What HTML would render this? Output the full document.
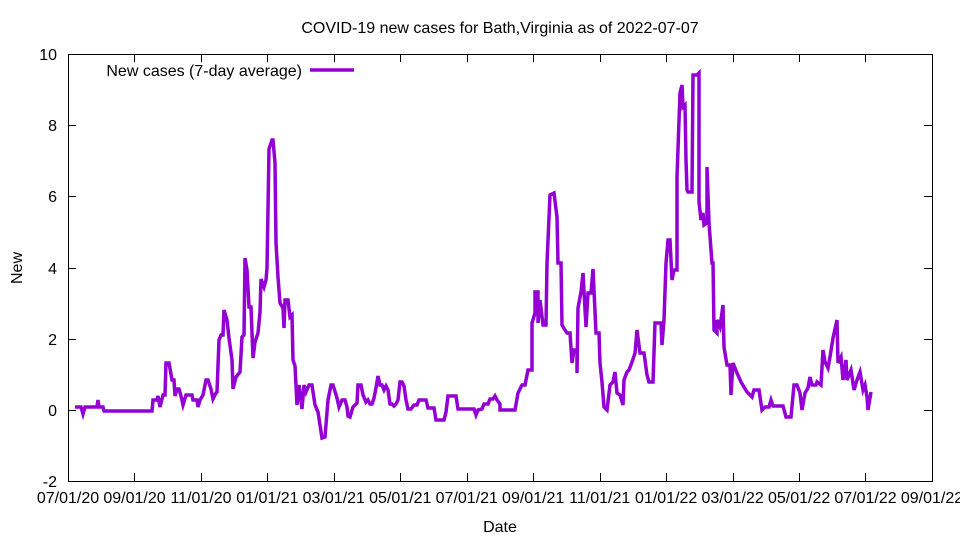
<!DOCTYPE html>
<html><head><style>html,body{margin:0;padding:0;background:#fff}svg{display:block}text{font-family:"Liberation Sans",sans-serif;font-size:16px;fill:#000}</style></head>
<body>
<svg width="960" height="540" viewBox="0 0 960 540">
<rect width="960" height="540" fill="#fff"/>
<text x="500" y="33" text-anchor="middle">COVID-19 new cases for Bath,Virginia as of 2022-07-07</text>
<g stroke="#000" stroke-width="1" fill="none">
<rect x="68.5" y="54.5" width="864" height="427"/>
<path d="M68 481.5h8M932 481.5h-8M68 410.5h8M932 410.5h-8M68 339.5h8M932 339.5h-8M68 268.5h8M932 268.5h-8M68 196.5h8M932 196.5h-8M68 125.5h8M932 125.5h-8M68 54.5h8M932 54.5h-8"/>
<path d="M68.5 481v-8M134.5 481v-8M201.5 481v-8M267.5 481v-8M334.5 481v-8M400.5 481v-8M467.5 481v-8M533.5 481v-8M600.5 481v-8M666.5 481v-8M733.5 481v-8M799.5 481v-8M865.5 481v-8M932.5 481v-8M68.5 54v8M134.5 54v8M201.5 54v8M267.5 54v8M334.5 54v8M400.5 54v8M467.5 54v8M533.5 54v8M600.5 54v8M666.5 54v8M733.5 54v8M799.5 54v8M865.5 54v8M932.5 54v8"/>
</g>
<g text-anchor="end">
<text x="57" y="487">-2</text><text x="57" y="416">0</text><text x="57" y="345">2</text><text x="57" y="274">4</text><text x="57" y="202">6</text><text x="57" y="131">8</text><text x="57" y="60">10</text>
</g>
<g text-anchor="middle">
<text x="68" y="503">07/01/20</text><text x="134.5" y="503">09/01/20</text><text x="201" y="503">11/01/20</text><text x="267.4" y="503">01/01/21</text><text x="333.8" y="503">03/01/21</text><text x="400.3" y="503">05/01/21</text><text x="466.8" y="503">07/01/21</text><text x="533.2" y="503">09/01/21</text><text x="599.7" y="503">11/01/21</text><text x="666.2" y="503">01/01/22</text><text x="732.6" y="503">03/01/22</text><text x="799.1" y="503">05/01/22</text><text x="865.5" y="503">07/01/22</text><text x="932" y="503">09/01/22</text>
<text x="500" y="532">Date</text>
</g>
<text x="0" y="0" text-anchor="middle" transform="translate(22,268) rotate(-90)">New</text>
<text x="302" y="76" text-anchor="end">New cases (7-day average)</text>
<line x1="310" y1="70" x2="354" y2="70" stroke="#9400d3" stroke-width="3.5"/>
<polyline fill="none" stroke="#9400d3" stroke-width="3.5" stroke-linejoin="miter" points="75,407 81,407 83,414 85,407 97,407 98,400 99,407 103,407 104,411 152,411 153,400 157,400 158,396 160,407 163,395 165,395 166,363 169,363 172,380 174,380 175,396 177,389 179,389 181,396 183,405 186,395 192,395 193,400 197,400 198,407 200,400 203,395 206,380 208,380 211,389 213,399 216,393 217,392 219,340 221,335 223,335 224,310 227,320 229,338 232,360 233,389 236,377 240,372 242,337 244,335 245,258 247,270 249,307 251,307 252,333 253,358 255,342 258,333 260,312 261,279 264,287 266,280 267,268 269,149 272,140 273,140 275,163 276,243 278,277 280,303 283,308 284,328 285,300 288,300 290,317 292,315 293,360 295,366 297,405 299,385 302,409 304,385 306,392 309,385 312,385 315,405 318,412 322,438 325,437 328,400 331,385 333,385 337,398 339,407 342,400 345,400 347,407 348,416 350,417 353,407 357,403 358,385 361,385 363,395 366,402 368,400 370,404 372,404 374,398 376,388 378,376 380,385 382,385 384,390 386,386 388,390 390,404 392,404 394,406 396,404 398,400 400,382 402,382 404,386 406,400 408,409 411,409 414,405 417,405 419,400 426,400 428,408 434,408 436,420 444,420 446,412 448,396 456,396 458,409 474,409 476,415 478,410 482,409 484,404 488,404 490,399 493,399 495,396 497,400 500,404 500,410 515,410 518,393 522,385 525,385 528,370 532,370 532,323 535,313 535,292 538,292 538,323 540,300 543,325 546,325 547,263 550,195 554,193 557,217 558,263 561,263 562,325 565,330 567,333 570,333 572,363 574,350 577,350 577,373 578,308 581,292 583,273 586,327 588,293 591,293 593,269 596,333 599,333 600,363 602,382 604,407 607,410 610,385 613,382 615,372 617,393 620,395 623,405 624,380 627,372 629,370 632,362 635,353 637,330 640,353 644,353 647,375 649,382 653,382 655,323 661,323 662,345 664,320 666,263 668,240 670,240 672,280 674,270 677,270 677,177 680,93 682,85 683,107 685,105 686,160 687,190 688,192 692,192 693,75 697,75 699,73 699,202 701,220 703,213 704,225 707,223 707,167 709,223 712,263 713,263 714,330 717,333 717,320 720,327 723,305 724,347 727,365 730,365 731,395 733,363 737,373 741,382 747,392 752,397 754,390 759,390 762,410 765,407 769,407 771,400 773,406 783,406 786,417 791,417 794,385 797,385 800,393 802,410 805,393 808,388 810,377 812,385 816,385 817,382 821,385 823,350 825,362 828,368 830,357 833,338 837,320 838,363 841,357 843,380 846,360 847,380 851,370 854,390 857,380 860,372 863,390 865,385 867,397 868,410 871,392"/>
</svg>
</body></html>
